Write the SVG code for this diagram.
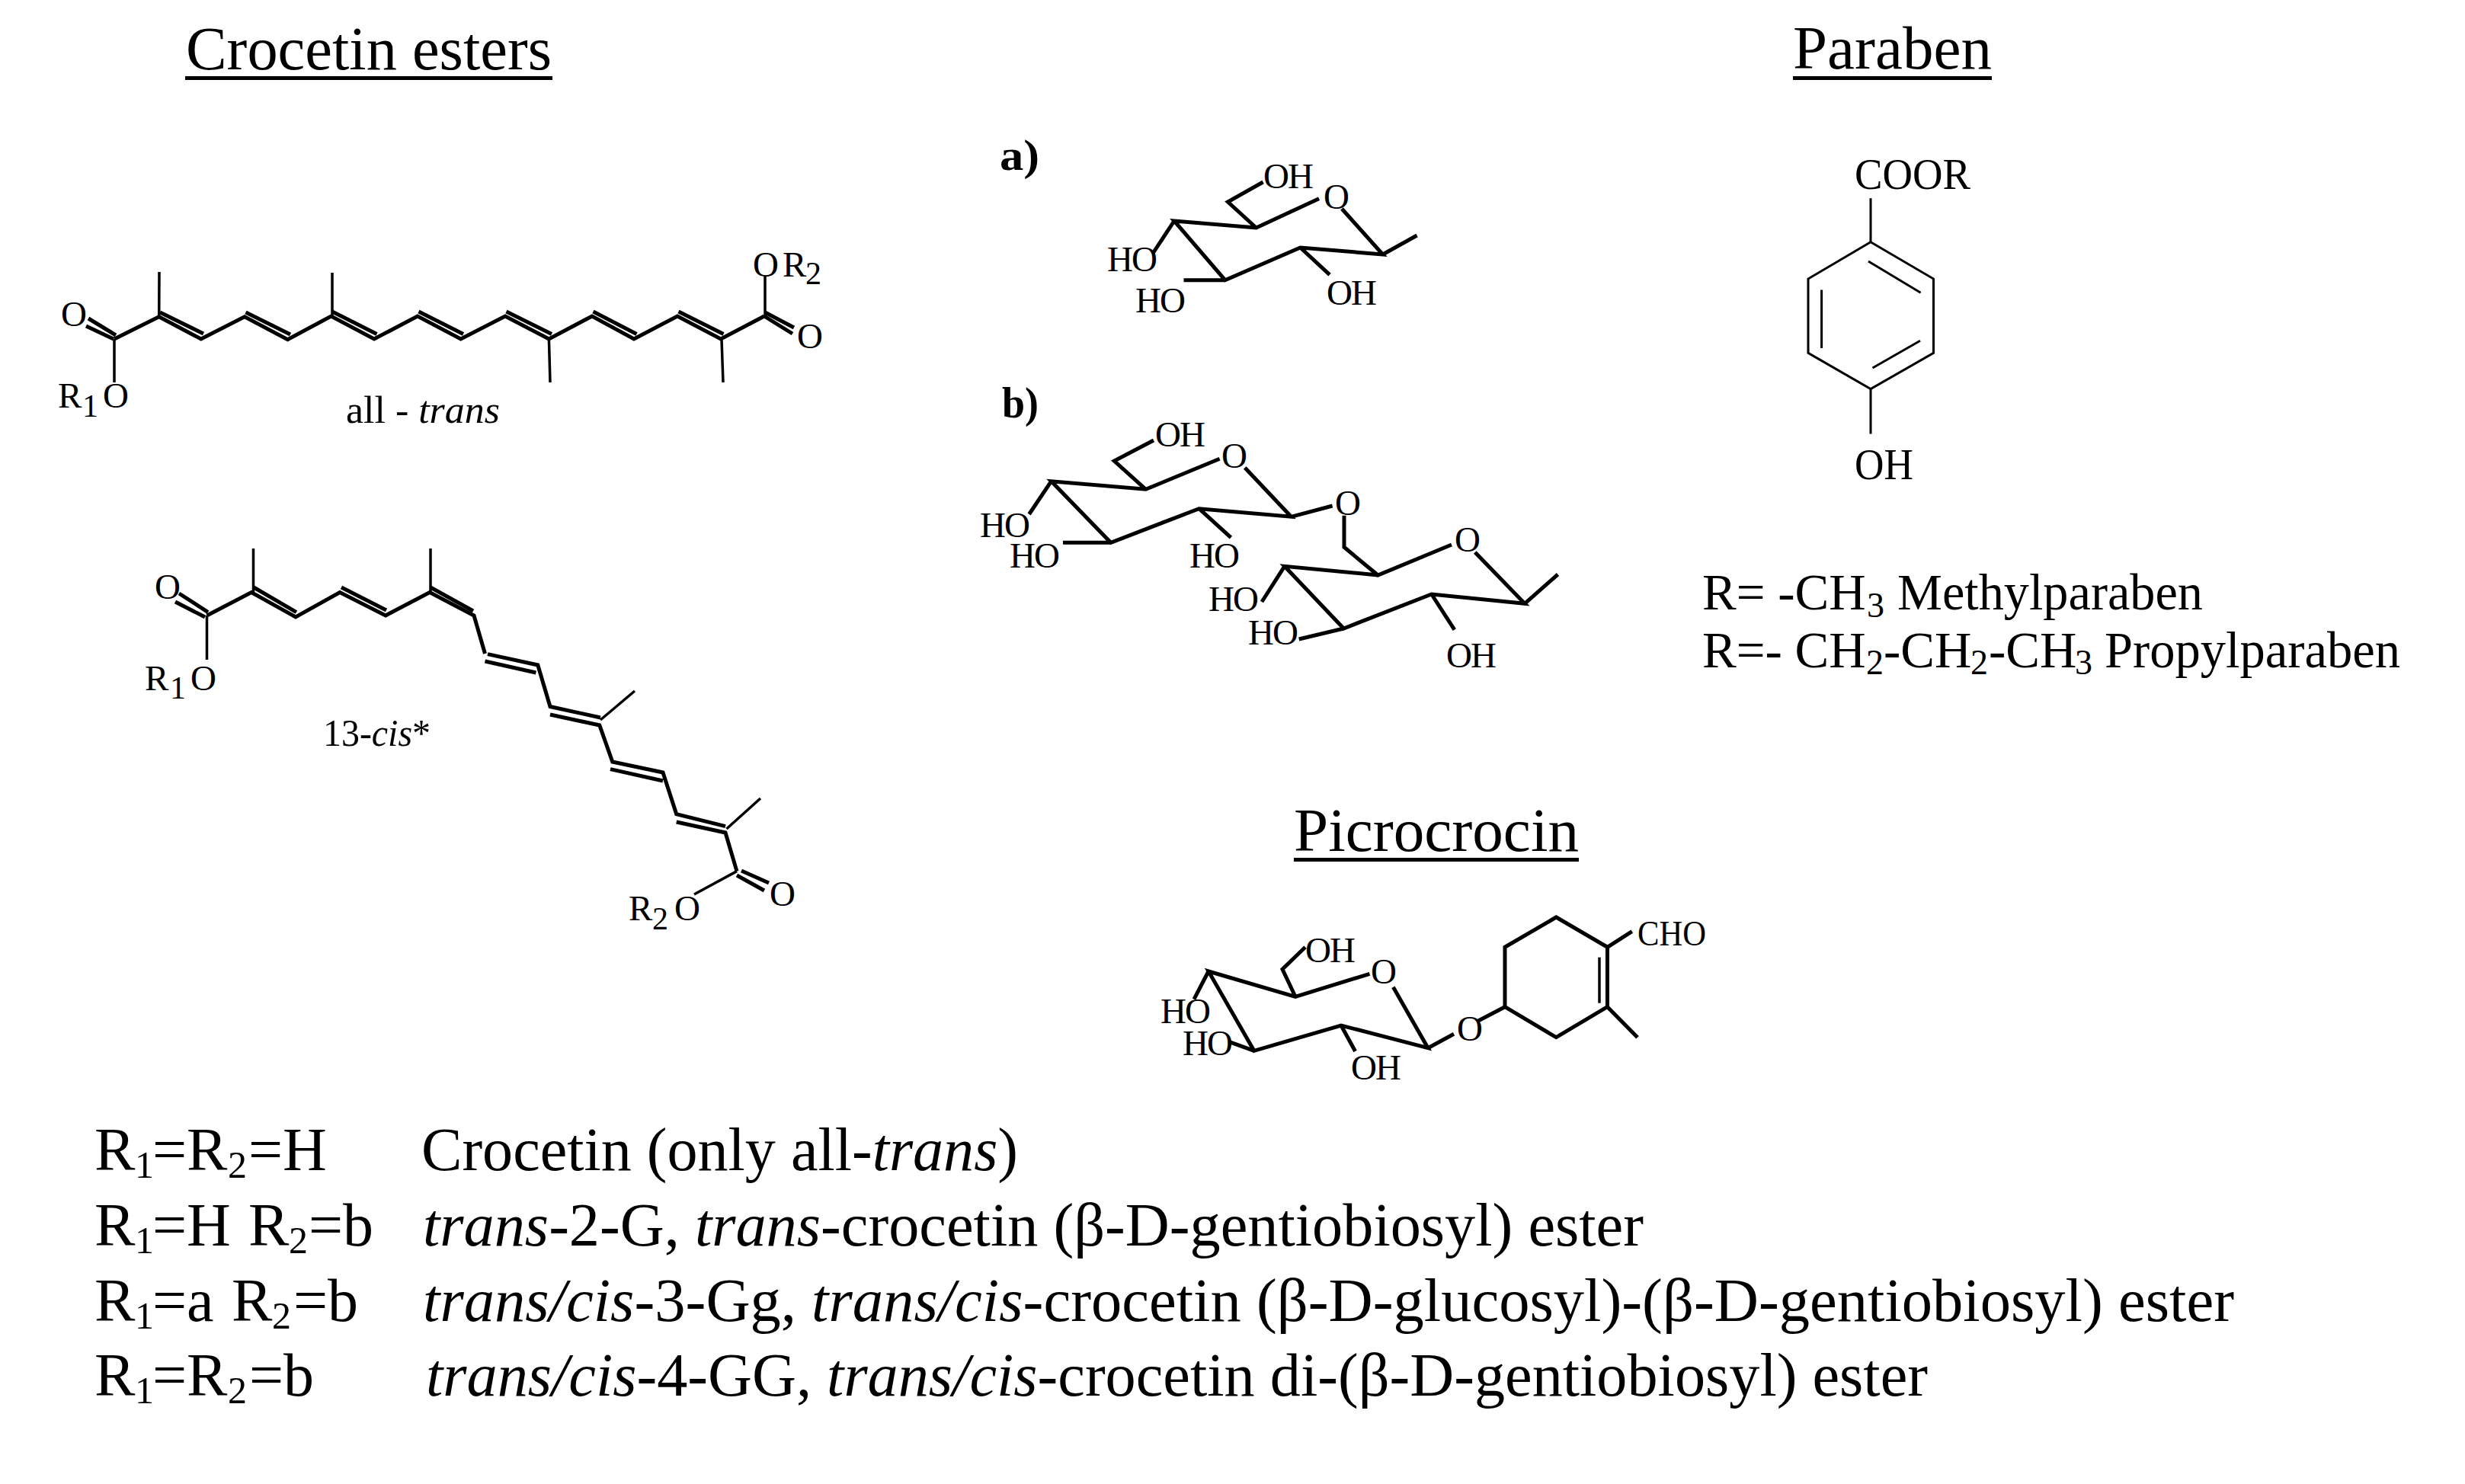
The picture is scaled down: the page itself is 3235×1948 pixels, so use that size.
<svg xmlns="http://www.w3.org/2000/svg" width="3235" height="1948" viewBox="0 0 3235 1948">
<style>
text{font-family:"Liberation Serif","Times New Roman",serif;fill:#000}
.b{fill:none;stroke:#000;stroke-width:5;stroke-linejoin:miter;stroke-linecap:butt}
.m{fill:none;stroke:#000;stroke-width:3.5;stroke-linecap:butt}
.p{fill:none;stroke:#000;stroke-width:3;stroke-linejoin:miter}
.h{font-size:80px}
.l{font-size:80px}
.s{font-size:50px}
.a{font-size:47px}
.as{font-size:42px}
.g{font-size:47px;letter-spacing:-2px}
.q{font-size:58px}
.r{font-size:67px}
.rs{font-size:46px}
.lab{font-size:58px;font-weight:bold}
.i{font-style:italic}
</style>
<rect width="3235" height="1948" fill="#fff"/>

<g id="titles">
<text class="h" x="244" y="91" textLength="480" lengthAdjust="spacingAndGlyphs">Crocetin esters</text>
<rect x="243" y="100" width="482" height="5"/>
<text class="h" x="2353" y="90" textLength="261" lengthAdjust="spacingAndGlyphs">Paraben</text>
<rect x="2353" y="100" width="261" height="5"/>
<text class="h" x="1698" y="1117" textLength="374" lengthAdjust="spacingAndGlyphs">Picrocrocin</text>
<rect x="1698" y="1126" width="374" height="5"/>
</g>

<g id="all-trans">
<polyline class="b" points="150,445 208.7,415.7 263.8,445 321,415.7 377.5,445.7 434.6,415 491,445 548,415 604.7,445 663,415 720.4,445 777,415 832,445 889,415 946,445 1003,415"/>
<path class="b" d="M210 410L267 438M322.500 410L381 439M436 409L494.500 438.500M549.500 409L608 438.500M664.500 409L724 438.500M778.500 409L835.500 438.500M890.500 409L949.500 438.500"/>
<path class="b" d="M152 440L116 418M149 445L113 428M1004 410L1042 430M1003 415L1040 438"/>
<path class="m" d="M150 445L150 502M208.700 416L209 357M436 415L436 358M720.400 445L722 502M947 445L949 502M1004 415L1004 363"/>
<text class="a" x="80" y="428">O</text>
<text class="a" x="76" y="535">R</text><text class="as" x="108" y="547">1</text><text class="a" x="135" y="535">O</text>
<text class="a" x="988" y="363">O</text><text class="a" x="1027" y="363">R</text><text class="as" x="1057" y="373">2</text>
<text class="a" x="1046" y="457">O</text>
<text x="454" y="555" font-size="50" textLength="202" lengthAdjust="spacingAndGlyphs">all - <tspan class="i">trans</tspan></text>
</g>

<g id="cis-13">
<polyline class="b" points="271.500,808 330,777.500 388,810 446,777.500 506,808 564,777.500 622,808 636.500,858"/>
<path class="b" d="M333 771L389 803.600M448 771L507 801M565 771L621 802M640 858.600L705.800 873L722 927.500L788 942M636.500 868L703.400 883M722 938L786.800 952L803.800 1000L870 1014L887.700 1068.600L952 1084.600M801 1009.600L870 1025M887.700 1079L952 1093L967 1143.600M273 803.600L235 779M269 810L230 790M973 1143L1009 1159M967 1149L1003 1169"/>
<path class="m" d="M271.500 808L271.500 866M332.500 778L332.500 720M565 778L565 720M788 945L833 907M953.500 1088L998 1048M967 1143.600L911 1174"/>
<text class="a" x="203" y="786">O</text>
<text class="a" x="190" y="906">R</text><text class="as" x="223" y="917">1</text><text class="a" x="250" y="906">O</text>
<text class="a" x="1010" y="1189">O</text>
<text class="a" x="825" y="1208">R</text><text class="as" x="856" y="1220">2</text><text class="a" x="885" y="1208">O</text>
<text x="424" y="979" font-size="50" textLength="141" lengthAdjust="spacingAndGlyphs">13-<tspan class="i">cis</tspan>*</text>
</g>

<g id="sugar-a">
<text class="lab" x="1312" y="223" textLength="52" lengthAdjust="spacingAndGlyphs">a)</text>
<path class="b" d="M1731 260.700L1648.600 299L1541 290L1607.800 367.700L1706.500 325L1814.700 334L1761 274M1648.600 299L1611.400 265L1657.600 239M1541 290L1512.700 333M1607.800 367.700L1553.500 367.700M1706.500 325L1745 360.700M1814.700 334L1859.600 309"/>
<text class="g" x="1658" y="247">OH</text>
<text class="g" x="1737" y="274">O</text>
<text class="g" x="1453" y="356">HO</text>
<text class="g" x="1490" y="410">HO</text>
<text class="g" x="1741" y="400">OH</text>
</g>

<g id="sugar-b">
<text class="lab" x="1315" y="548" textLength="48" lengthAdjust="spacingAndGlyphs">b)</text>
<path class="b" d="M1600.600 602.300L1503.700 642.300L1379.700 631.700L1457.800 712.300L1573.600 667.700L1694.500 678.300L1633.800 614M1503.700 642.300L1462.300 605L1514 578M1379.700 631.700L1350.600 675M1457.800 712.300L1395 712.300M1573.600 667.700L1615.400 705.700M1694.500 678.300L1748.600 664M1764 676.700L1764 718.300L1808.300 755L1905 715M1935.800 725L2001 792.300L1878.700 780L1763.400 825L1685.800 743.300L1808.300 755M2001 792.300L2044.500 754M1763.400 825L1704.700 839M1685.800 743.300L1656 790M1878.700 780L1908.800 826.700"/>
<text class="g" x="1516" y="586">OH</text>
<text class="g" x="1603" y="614">O</text>
<text class="g" x="1286" y="705">HO</text>
<text class="g" x="1325" y="745">HO</text>
<text class="g" x="1561" y="745">HO</text>
<text class="g" x="1752" y="676">O</text>
<text class="g" x="1909" y="724">O</text>
<text class="g" x="1586" y="802">HO</text>
<text class="g" x="1638" y="846">HO</text>
<text class="g" x="1898" y="876">OH</text>
</g>

<g id="paraben">
<polygon class="p" points="2455,317.700 2537.500,366 2537.500,463.300 2455,510.600 2373,463.300 2373,366"/>
<path class="p" d="M2455 260.300L2455 317.700M2452 343L2520.600 384.300M2390.600 380.600L2390.600 456.900M2457.500 483L2520 447.200M2455 510.600L2455 569.400"/>
<text class="q" x="2434" y="248" textLength="152" lengthAdjust="spacingAndGlyphs">COOR</text>
<text class="q" x="2434" y="629" textLength="77" lengthAdjust="spacingAndGlyphs">OH</text>
<text class="r" x="2234" y="800">R= -CH<tspan class="rs" x="2450" y="810">3</tspan></text>
<text class="r" x="2490" y="800" textLength="401" lengthAdjust="spacingAndGlyphs">Methylparaben</text>
<text class="r" x="2234" y="876">R=- CH<tspan class="rs" x="2449" y="885">2</tspan><tspan x="2472" y="876">-CH</tspan><tspan class="rs" x="2586" y="885">2</tspan><tspan x="2610" y="876">-CH</tspan><tspan class="rs" x="2723" y="885">3</tspan></text>
<text class="r" x="2762" y="876" textLength="388" lengthAdjust="spacingAndGlyphs">Propylparaben</text>
</g>

<g id="picrocrocin">
<path class="b" d="M1797.500 1278.300L1700 1308.300L1586 1275L1645.800 1379.300L1760 1346L1874 1375.700L1828.400 1295.700M1700 1308.300L1683 1272.300L1713 1243.300M1586 1275L1567 1311.700M1645.800 1379.300L1613.400 1367.700M1760 1346L1778.600 1380M1874 1375.700L1908 1357.300M1940 1340L1975 1321.700M2109.500 1243.300L2141.800 1222.700M2109.500 1321.700L2149 1361.700"/>
<polygon class="b" points="1975,1321.700 1975,1243.300 2042.300,1204 2109.500,1243.300 2109.500,1321.700 2042.300,1361.700"/>
<path class="m" d="M2099 1256.700L2099 1316.700"/>
<text class="a" x="2149" y="1241" textLength="90" lengthAdjust="spacingAndGlyphs">CHO</text>
<text class="g" x="1713" y="1263">OH</text>
<text class="g" x="1799" y="1291">O</text>
<text class="g" x="1523" y="1343">HO</text>
<text class="g" x="1552" y="1385">HO</text>
<text class="g" x="1773" y="1417">OH</text>
<text class="g" x="1912" y="1366">O</text>
</g>

<g id="legend">
<text class="l" x="124" y="1536">R<tspan class="s" x="177" y="1546">1</tspan><tspan x="200" y="1536">=R</tspan><tspan class="s" x="299" y="1546">2</tspan><tspan x="326" y="1536">=H</tspan></text>
<text class="l" x="553" y="1536" textLength="783" lengthAdjust="spacingAndGlyphs">Crocetin (only all-<tspan class="i">trans</tspan>)</text>
<text class="l" x="124" y="1635">R<tspan class="s" x="177" y="1645">1</tspan><tspan x="200" y="1635">=H</tspan><tspan x="326" y="1635">R</tspan><tspan class="s" x="379" y="1645">2</tspan><tspan x="405" y="1635">=b</tspan></text>
<text class="l" x="555" y="1635" textLength="1602" lengthAdjust="spacingAndGlyphs"><tspan class="i">trans</tspan>-2-G, <tspan class="i">trans</tspan>-crocetin (β-D-gentiobiosyl) ester</text>
<text class="l" x="124" y="1734">R<tspan class="s" x="177" y="1744">1</tspan><tspan x="200" y="1734">=a</tspan><tspan x="304" y="1734">R</tspan><tspan class="s" x="357" y="1744">2</tspan><tspan x="385" y="1734">=b</tspan></text>
<text class="l" x="555" y="1734" textLength="2377" lengthAdjust="spacingAndGlyphs"><tspan class="i">trans/cis</tspan>-3-Gg, <tspan class="i">trans/cis</tspan>-crocetin (β-D-glucosyl)-(β-D-gentiobiosyl) ester</text>
<text class="l" x="124" y="1832">R<tspan class="s" x="177" y="1842">1</tspan><tspan x="200" y="1832">=R</tspan><tspan class="s" x="299" y="1842">2</tspan><tspan x="327" y="1832">=b</tspan></text>
<text class="l" x="559" y="1832" textLength="1971" lengthAdjust="spacingAndGlyphs"><tspan class="i">trans/cis</tspan>-4-GG, <tspan class="i">trans/cis</tspan>-crocetin di-(β-D-gentiobiosyl) ester</text>
</g>
</svg>
